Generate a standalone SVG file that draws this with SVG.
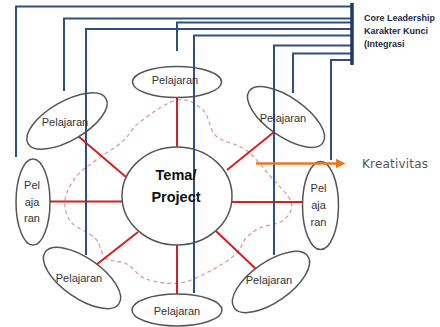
<svg xmlns="http://www.w3.org/2000/svg" width="440" height="327" viewBox="0 0 440 327">
<style>
.bl{stroke:#2f4f7f;stroke-width:2;fill:none}
.rd{stroke:#d42020;stroke-width:2;fill:none}
.el{stroke:#555;stroke-width:1.5;fill:#fff}
.t{font-family:"Liberation Sans",Arial,sans-serif;font-size:11px;fill:#333;text-anchor:middle}
.c{font-family:"Liberation Sans",Arial,sans-serif;font-size:9px;font-weight:bold;fill:#1c2a44}
</style>
<defs>
<marker id="ah" markerWidth="4" markerHeight="4" refX="3" refY="2" orient="auto" markerUnits="strokeWidth">
<path d="M0,0 L4,2 L0,4 Z" fill="#e87722"/>
</marker>
</defs>
<rect width="440" height="327" fill="#fff"/>
<g id="connectors">
<path class="dash" d="M177,100 C187.5,98 196.5,104 203,110 C209.5,116 208.8,129.3 216,136 C223.2,142.7 237,143.3 246,150 C255,156.7 262.5,167.3 270,176 C277.5,184.7 288.7,194.7 291,202 C293.3,209.3 289.2,215.7 284,220 C278.8,224.3 266.3,225 260,228 C253.7,231 250,233.7 246,238 C242,242.3 241.7,248.7 236,254 C230.3,259.3 221.3,265.2 212,270 C202.7,274.8 191,281.5 180,283 C169,284.5 154.8,282.2 146,279 C137.2,275.8 133.7,267.5 127,264 C120.3,260.5 111.3,262.3 106,258 C100.7,253.7 100.8,244 95,238 C89.2,232 76,228.3 71,222 C66,215.7 64.2,207.5 65,200 C65.8,192.5 70.8,183.7 76,177 C81.2,170.3 88.3,165.8 96,160 C103.7,154.2 114.7,148.3 122,142 C129.3,135.7 130.8,129 140,122 C149.2,115 166.5,102 177,100 Z" fill="none" stroke="#e59a9a" stroke-width="1.3" stroke-dasharray="4 3"/>
<path class="rd" d="M177,97 V147 M177,245 V294 M50,201.5 H122 M232,202 H303 M78,136 L126,177 M227,170 L274,132 M96,265 L138,232 M216,231 L258,271"/>
</g>
<g id="tema"><ellipse class="el" cx="177" cy="196" rx="55" ry="49"/></g>
<g id="p-top"><ellipse class="el" cx="177" cy="82" rx="44.5" ry="15.5"/></g>
<g id="p-ul"><ellipse class="el" cx="67" cy="121" rx="45" ry="19.5" transform="rotate(-30 67 121)"/></g>
<g id="p-ur"><ellipse class="el" cx="286" cy="117" rx="45" ry="19.5" transform="rotate(35 286 117)"/></g>
<g id="p-left"><ellipse class="el" cx="33" cy="202" rx="17" ry="43"/></g>
<g id="p-right"><ellipse class="el" cx="320.5" cy="205.5" rx="18" ry="44"/></g>
<g id="p-ll"><ellipse class="el" cx="82" cy="278" rx="45" ry="20" transform="rotate(35 82 278)"/></g>
<g id="p-lr"><ellipse class="el" cx="271" cy="282" rx="45" ry="20" transform="rotate(-35 271 282)"/></g>
<g id="p-bottom"><ellipse class="el" cx="177" cy="310" rx="45" ry="16"/></g>
<g id="leadership-lines">
<path class="bl" d="M16,157 V6.5 H352 M64,91 V18.5 H352 M177,51 V22.5 H352 M86,255 V29 H352 M194,293 V35.5 H352 M274,255 V45.5 H352 M293,93 V53.5 H352 M331,160 V60 H352"/>
<path d="M352,3 V65" stroke="#1f3a66" stroke-width="3.5"/>
</g>
<g id="labels">
<text class="t" x="175" y="83.5">Pelajaran</text>
<text class="t" x="65" y="126">Pelajaran</text>
<text class="t" x="283" y="122">Pelajaran</text>
<text class="t" x="79" y="281.5">Pelajaran</text>
<text class="t" x="269" y="284">Pelajaran</text>
<text class="t" x="177" y="315">Pelajaran</text>
<text class="t" x="32" y="189">Pel</text>
<text class="t" x="32" y="205.5">aja</text>
<text class="t" x="32" y="222">ran</text>
<text class="t" x="318.5" y="192">Pel</text>
<text class="t" x="318.5" y="209">aja</text>
<text class="t" x="318.5" y="225.5">ran</text>
<text x="176" y="180" font-family="'Liberation Sans',Arial,sans-serif" font-size="14.5" font-weight="bold" fill="#111" text-anchor="middle">Tema/</text>
<text x="176" y="202" font-family="'Liberation Sans',Arial,sans-serif" font-size="14.5" font-weight="bold" fill="#111" text-anchor="middle">Project</text>
<text class="c" x="364" y="20.5">Core Leadership</text>
<text class="c" x="364" y="33.5">Karakter Kunci</text>
<text class="c" x="364" y="46.5">(Integrasi</text>
</g>
<g id="kreativitas">
<path d="M256,163.5 H343" stroke="#e87722" stroke-width="2.5" marker-end="url(#ah)"/>
<text x="362" y="168" font-family="'DejaVu Sans',sans-serif" font-size="12" fill="#555" textLength="66">Kreativitas</text>
</g>
</svg>
